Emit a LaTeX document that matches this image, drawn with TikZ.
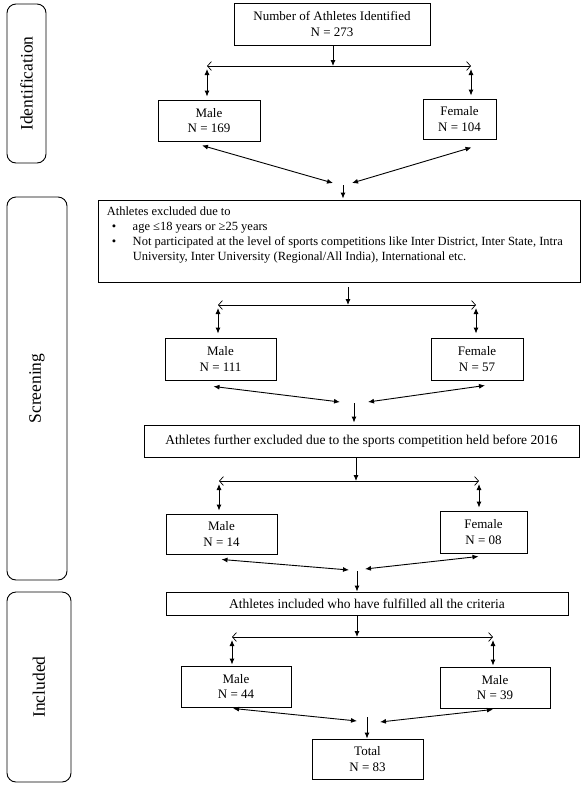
\documentclass[tikz,border=0pt]{standalone}
\usepackage{fontspec}
\setmainfont{Liberation Serif}
\usetikzlibrary{arrows.meta, calc}

\begin{document}
\begin{tikzpicture}[
x=1pt, y=-1pt,
box/.style={draw, line width=0.9pt, align=center, inner sep=0pt, font=\fontsize{13}{15.5}\selectfont},
wide/.style={box, font=\fontsize{13.5}{16}\selectfont},
side/.style={draw, line width=0.9pt, rounded corners=9pt, rotate=90, inner sep=0pt, font=\fontsize{17.5}{20}\selectfont},
arrow/.style={-{Latex[length=6pt, width=5pt]}, line width=0.9pt},
both/.style={{Latex[length=6pt, width=5pt]}-{Latex[length=6pt, width=5pt]}, line width=0.9pt},
split/.style={{Straight Barb[length=4pt, width=9pt]}-{Straight Barb[length=4pt, width=9pt]}, line width=0.7pt}
]
\useasboundingbox (0,0) rectangle (585,788);

\node[side, minimum width=159, minimum height=39] (idn) at (26.5,83.5) {Identification};
\node[side, minimum width=383, minimum height=60] (scr) at (37,388.5) {Screening};
\node[side, minimum width=190, minimum height=64] (inc) at (39,687) {Included};

\node[box, minimum width=196, minimum height=42] (top) at (332,24) {Number of Athletes Identified\\N = 273};
\node[box, minimum width=102, minimum height=41] (m1) at (209,120.5) {Male\\N = 169};
\node[box, minimum width=73, minimum height=40] (f1) at (459.5,119) {Female\\N = 104};

\node[box, minimum width=482, minimum height=82] (ex1) at (339,241) {};
\node[anchor=north west, align=left, inner sep=0pt, font=\fontsize{12.5}{15}\selectfont] (ex1txt) at ([xshift=9pt, yshift=-7pt]ex1.north west)
{Athletes excluded due to\\
\hspace*{5pt}\makebox[21pt][l]{•}age ≤18 years or ≥25 years\\
\hspace*{5pt}\makebox[21pt][l]{•}Not participated at the level of sports competitions like Inter District, Inter State, Intra\\
\hspace*{26pt}University, Inter University (Regional/All India), International etc.};

\node[box, minimum width=111, minimum height=42] (m2) at (220.5,359) {Male\\N = 111};
\node[box, minimum width=92, minimum height=42] (f2) at (477,359) {Female\\N = 57};
\node[wide, minimum width=435, minimum height=32] (ex2) at (361.5,441) {Athletes further excluded due to the sports competition held before 2016};

\node[box, minimum width=111, minimum height=40] (m3) at (221.5,534) {Male\\N = 14};
\node[box, minimum width=87, minimum height=42] (f3) at (483.5,532) {Female\\N = 08};
\node[wide, minimum width=402, minimum height=23] (incl) at (367,603.5) {Athletes included who have fulfilled all the criteria};

\node[box, minimum width=110, minimum height=41] (m4) at (236,686.5) {Male\\N = 44};
\node[box, minimum width=110, minimum height=41] (m5) at (495,687.5) {Male\\N = 39};
\node[box, minimum width=111, minimum height=40] (tot) at (367.5,759) {Total\\N = 83};

\coordinate (j1) at (333,66);
\coordinate (s1l) at (207,66);
\coordinate (s1r) at (471,66);
\coordinate (c1) at (343,183);

\coordinate (j2) at (348,305);
\coordinate (s2l) at (218,305);
\coordinate (s2r) at (476,305);
\coordinate (c2) at (354,402);

\coordinate (j3) at (356,481);
\coordinate (s3l) at (219,481);
\coordinate (s3r) at (479,481);
\coordinate (c3) at (357,570);

\coordinate (j4) at (357,637);
\coordinate (s4l) at (232,637);
\coordinate (s4r) at (493,637);
\coordinate (c4) at (367,717);

\draw[arrow] (top.south -| j1) -- (j1);
\draw[split] (s1l) -- (s1r);
\draw[both] ($(s1l)+(0,3)$) -- ($(s1l |- m1.north)+(0,-3)$);
\draw[both] ($(s1r)+(0,3)$) -- ($(s1r |- f1.north)+(0,-3)$);
\draw[both] ($(m1.south)+(-7,4)$) -- ($(c1)+(-10,0)$);
\draw[both] ($(f1.south)+(12,8)$) -- ($(c1)+(9,0)$);
\draw[arrow] ($(c1)+(0,2)$) -- ($(c1 |- ex1.north)+(0,-1)$);

\draw[arrow] ($(j2 |- ex1.south)+(0,5)$) -- (j2);
\draw[split] (s2l) -- (s2r);
\draw[both] ($(s2l)+(0,3)$) -- ($(s2l |- m2.north)+(0,-4)$);
\draw[both] ($(s2r)+(0,3)$) -- ($(s2r |- f2.north)+(0,-4)$);
\draw[both] ($(m2.south)+(-7,6)$) -- ($(c2)+(-14,0)$);
\draw[both] ($(f2.south)+(8,5)$) -- ($(c2)+(14,0)$);
\draw[arrow] ($(c2)+(0,1)$) -- ($(c2 |- ex2.north)+(0,-2)$);

\draw[arrow] (j3 |- ex2.south) -- (j3);
\draw[split] (s3l) -- (s3r);
\draw[both] ($(s3l)+(0,3)$) -- ($(s3l |- m3.north)+(0,-3)$);
\draw[both] ($(s3r)+(0,3)$) -- ($(s3r |- f3.north)+(0,-3)$);
\draw[both] ($(m3.south)+(0,5)$) -- ($(c3)+(-8,0)$);
\draw[both] ($(f3.south)+(-5,3)$) -- ($(c3)+(8,-1)$);
\draw[arrow] ($(c3)+(0,1)$) -- (c3 |- incl.north);

\draw[arrow] (j4 |- incl.south) -- (j4);
\draw[split] (s4l) -- (s4r);
\draw[both] ($(s4l)+(0,3)$) -- ($(s4l |- m4.north)+(0,-1)$);
\draw[both] ($(s4r)+(0,3)$) -- ($(s4r |- m5.north)+(0,-1)$);
\draw[both] ($(m4.south)+(-3,1)$) -- ($(c4)+(-10,4)$);
\draw[both] ($(m5.south)+(-2,1)$) -- ($(c4)+(13,5)$);
\draw[arrow] (c4) -- (c4 |- tot.north);

\end{tikzpicture}
\end{document}
